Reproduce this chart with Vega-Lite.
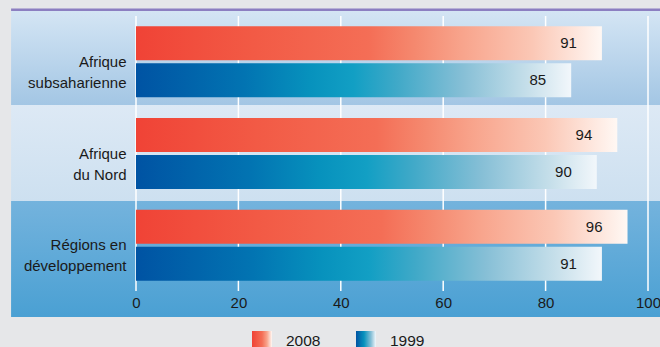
{
  "$schema": "https://vega.github.io/schema/vega-lite/v6.json",
  "width": 512,
  "height": 275,
  "autosize": {"type": "none"},
  "padding": {"left": 136, "top": 16, "right": 12, "bottom": 56},
  "background": "#e6e7e9",
  "config": {
    "view": {"stroke": null},
    "font": "Liberation Sans",
    "axis": {"labelColor": "#1a1a1a", "labelFontSize": 15, "labelFont": "Liberation Sans"},
    "legend": {"labelColor": "#1a1a1a", "labelFontSize": 15.5, "labelFont": "Liberation Sans"}
  },
  "datasets": {
    "bands": [
      {"region": "Afrique subsaharienne"},
      {"region": "Afrique du Nord"},
      {"region": "Régions en développement"}
    ],
    "grid": [{"tick": 0}, {"tick": 20}, {"tick": 40}, {"tick": 60}, {"tick": 80}, {"tick": 100}],
    "bars": [
      {"region": "Afrique subsaharienne", "year": "2008", "value": 91},
      {"region": "Afrique subsaharienne", "year": "1999", "value": 85},
      {"region": "Afrique du Nord", "year": "2008", "value": 94},
      {"region": "Afrique du Nord", "year": "1999", "value": 90},
      {"region": "Régions en développement", "year": "2008", "value": 96},
      {"region": "Régions en développement", "year": "1999", "value": 91}
    ]
  },
  "layer": [
    {
      "data": {"name": "bands"},
      "transform": [{"filter": "datum.region == 'Afrique subsaharienne'"}],
      "mark": {"type": "bar", "orient": "horizontal", "height": 94, "yOffset": -3.85, "clip": false,
        "fill": {"gradient": "linear", "x1": 0, "y1": 0, "x2": 0, "y2": 1,
          "stops": [{"offset": 0, "color": "#d4e5f4"}, {"offset": 1, "color": "#a3c6e4"}]}},
      "encoding": {
        "y": {"field": "region", "type": "nominal", "sort": null,
          "scale": {"domain": ["Afrique subsaharienne", "Afrique du Nord", "Régions en développement"], "paddingInner": 0, "paddingOuter": 0},
          "axis": {"title": null, "domain": false, "ticks": false, "labelPadding": 10, "zindex": 1,
            "labelLineHeight": 21, "labelBaseline": "middle",
            "labelExpr": "datum.value == 'Afrique subsaharienne' ? ['Afrique', 'subsaharienne'] : datum.value == 'Afrique du Nord' ? ['Afrique', 'du Nord'] : ['Régions en', 'développement']"}},
        "x": {"datum": -24.4, "type": "quantitative", "scale": {"domain": [0, 100], "nice": false}},
        "x2": {"datum": 102.5}
      }
    },
    {
      "data": {"name": "bands"},
      "transform": [{"filter": "datum.region == 'Afrique du Nord'"}],
      "mark": {"type": "bar", "orient": "horizontal", "height": 96, "yOffset": -0.5, "clip": false,
        "fill": {"gradient": "linear", "x1": 0, "y1": 0, "x2": 0, "y2": 1,
          "stops": [{"offset": 0, "color": "#dde9f5"}, {"offset": 1, "color": "#cde0f0"}]}},
      "encoding": {
        "y": {"field": "region", "type": "nominal"},
        "x": {"datum": -24.4, "type": "quantitative"},
        "x2": {"datum": 102.5}
      }
    },
    {
      "data": {"name": "bands"},
      "transform": [{"filter": "datum.region == 'Régions en développement'"}],
      "mark": {"type": "bar", "orient": "horizontal", "height": 116, "yOffset": 13.8, "clip": false,
        "fill": {"gradient": "linear", "x1": 0, "y1": 0, "x2": 0, "y2": 1,
          "stops": [{"offset": 0, "color": "#74b3dd"}, {"offset": 1, "color": "#4aa0d3"}]}},
      "encoding": {
        "y": {"field": "region", "type": "nominal"},
        "x": {"datum": -24.4, "type": "quantitative"},
        "x2": {"datum": 102.5}
      }
    },
    {
      "data": {"name": "bands"},
      "transform": [{"filter": "datum.region == 'Afrique subsaharienne'"}],
      "mark": {"type": "bar", "orient": "horizontal", "height": 2.6, "yOffset": -52.1, "clip": false, "fill": "#8c7fc1"},
      "encoding": {
        "y": {"field": "region", "type": "nominal"},
        "x": {"datum": -24.4, "type": "quantitative"},
        "x2": {"datum": 102.5}
      }
    },
    {
      "data": {"name": "grid"},
      "mark": {"type": "rule", "color": "#ffffff", "strokeWidth": 1.5},
      "encoding": {
        "x": {"field": "tick", "type": "quantitative"}
      }
    },
    {
      "data": {"name": "bars"},
      "transform": [{"filter": "datum.year == '2008'"}],
      "mark": {"type": "bar", "orient": "horizontal", "clip": false, "strokeWidth": 0,
        "fill": {"gradient": "linear", "x1": 0, "y1": 0, "x2": 1, "y2": 0,
          "stops": [{"offset": 0, "color": "#f04336"}, {"offset": 0.25, "color": "#f25a45"}, {"offset": 0.5, "color": "#f46e56"}, {"offset": 0.6, "color": "#f5896f"}, {"offset": 0.7, "color": "#f8a48c"}, {"offset": 0.85, "color": "#fbc7b5"}, {"offset": 1, "color": "#fff8f4"}]}},
      "encoding": {
        "y": {"field": "region", "type": "nominal"},
        "yOffset": {"field": "year", "type": "nominal", "scale": {"domain": ["2008", "1999"], "paddingInner": 0.08, "paddingOuter": 0.28}},
        "x": {"field": "value", "type": "quantitative",
          "axis": {"title": null, "domain": false, "ticks": false, "grid": false, "labelPadding": 4, "zindex": 1,
            "values": [0, 20, 40, 60, 80, 100], "labelFlush": false, "labelBaseline": "top"}},
        "stroke": {"field": "year", "type": "nominal",
          "scale": {"domain": ["2008", "1999"], "range": ["#f04336", "#0053a3"]},
          "legend": {"title": null, "orient": "none", "legendX": 116, "legendY": 315, "direction": "horizontal",
            "symbolType": "square", "symbolSize": 400, "symbolStrokeWidth": 0, "labelOffset": 14,
            "columnPadding": 35, "padding": 0,
            "encoding": {"symbols": {
              "strokeWidth": {"value": 0},
              "fill": {
                "condition": {"test": "datum.value == '1999'", "value": {"gradient": "linear", "x1": 0, "y1": 0, "x2": 1, "y2": 0,
                  "stops": [{"offset": 0, "color": "#0053a3"}, {"offset": 0.4, "color": "#0792bd"}, {"offset": 0.75, "color": "#86bfd6"}, {"offset": 1, "color": "#f2f7fb"}]}},
                "value": {"gradient": "linear", "x1": 0, "y1": 0, "x2": 1, "y2": 0,
                  "stops": [{"offset": 0, "color": "#f04336"}, {"offset": 0.5, "color": "#f46e56"}, {"offset": 0.75, "color": "#f8a48c"}, {"offset": 1, "color": "#fff8f4"}]}
              }}}}}
      }
    },
    {
      "data": {"name": "bars"},
      "transform": [{"filter": "datum.year == '1999'"}],
      "mark": {"type": "bar", "orient": "horizontal", "clip": false, "strokeWidth": 0,
        "fill": {"gradient": "linear", "x1": 0, "y1": 0, "x2": 1, "y2": 0,
          "stops": [{"offset": 0, "color": "#0053a3"}, {"offset": 0.25, "color": "#0274b2"}, {"offset": 0.4, "color": "#0792bd"}, {"offset": 0.5, "color": "#129fc4"}, {"offset": 0.6, "color": "#40a9c8"}, {"offset": 0.75, "color": "#86bfd6"}, {"offset": 0.9, "color": "#c6dfea"}, {"offset": 1, "color": "#f2f7fb"}]}},
      "encoding": {
        "y": {"field": "region", "type": "nominal"},
        "yOffset": {"field": "year", "type": "nominal"},
        "x": {"field": "value", "type": "quantitative"}
      }
    },
    {
      "data": {"name": "bars"},
      "mark": {"type": "text", "align": "right", "baseline": "middle", "dx": -25, "fontSize": 15, "color": "#1a1a1a"},
      "encoding": {
        "y": {"field": "region", "type": "nominal"},
        "yOffset": {"field": "year", "type": "nominal"},
        "x": {"field": "value", "type": "quantitative"},
        "text": {"field": "value", "type": "quantitative"}
      }
    }
  ]
}
